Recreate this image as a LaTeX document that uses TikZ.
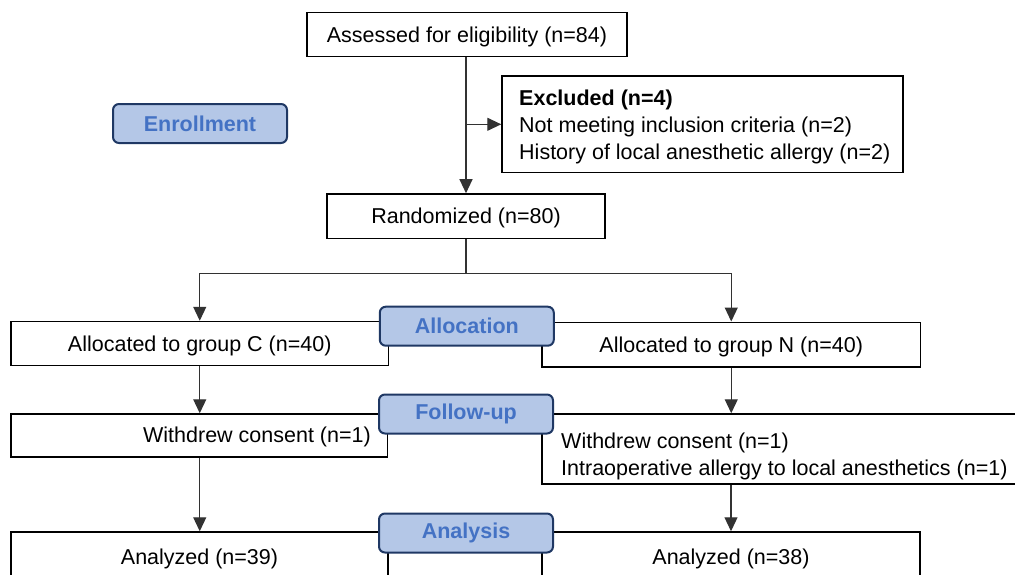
\documentclass[tikz,border=0pt]{standalone}
\usepackage{fontspec}
\setmainfont{Liberation Sans}
\usetikzlibrary{arrows.meta}
\definecolor{labfill}{RGB}{180,199,231}
\definecolor{labdraw}{RGB}{31,56,100}
\definecolor{labtext}{RGB}{68,114,196}
\definecolor{conn}{RGB}{50,50,50}
\begin{document}
\begin{tikzpicture}[x=1pt,y=-1pt,
  every node/.style={font=\fontsize{21.5}{27}\selectfont},
  box/.style={draw=black, line width=1.5pt, fill=white, inner sep=0pt},
  onebox/.style={box, text height=19.5pt, text depth=4.5pt},
  phase/.style={draw=labdraw, line width=2pt, fill=labfill, rounded corners=6pt,
    text=labtext, font=\fontsize{21.5}{27}\selectfont\bfseries,
    minimum width=174pt, minimum height=39pt, inner sep=0pt},
  conn/.style={draw=conn, line width=1.2pt},
  arr/.style={conn, -{Triangle[length=14pt,width=13pt]}},
  freetext/.style={inner sep=0pt, align=left}
]
\useasboundingbox (0,0) rectangle (1015,574);
\clip (0,0) rectangle (1015,574);
\fill[white] (0,0) rectangle (1015,574);

% boxes
\node[onebox, minimum width=320pt, minimum height=44pt] (assess) at (467,34.7) {Assessed for eligibility (n=84)};
\node[box, minimum width=401pt, minimum height=96.7pt] (excl) at (702.5,124.3) {};
\node[freetext, anchor=west] (excltxt) at (519,127) {\textbf{Excluded (n=4)}\\Not meeting inclusion criteria (n=2)\\History of local anesthetic allergy (n=2)};
\node[onebox, minimum width=278pt, minimum height=44.7pt] (rand) at (466,216.3) {Randomized (n=80)};

\node[onebox, minimum width=377.5pt, minimum height=44pt] (allocC) at (199.75,343.5) {Allocated to group C (n=40)};
\node[onebox, minimum width=378.5pt, minimum height=44.5pt] (allocN) at (731.25,344.5) {Allocated to group N (n=40)};

\node[box, minimum width=376.5pt, minimum height=43pt] (wdC) at (199.25,435.5) {};
\node[freetext, anchor=east] (wdCtxt) at (371,437) {Withdrew consent (n=1)};
\node[box, minimum width=490pt, minimum height=70pt] (wdN) at (787,449) {};
\node[freetext, anchor=west] (wdNtxt) at (561,456.5) {Withdrew consent (n=1)\\Intraoperative allergy to local anesthetics (n=1)};

\node[onebox, minimum width=377pt, minimum height=50pt] (anaC) at (199.5,557) {Analyzed (n=39)};
\node[onebox, minimum width=378pt, minimum height=50pt] (anaN) at (731,557) {Analyzed (n=38)};

% connectors
\coordinate (main) at (466,0);
\draw[arr] (assess.south -| main) -- (rand.north -| main);
\coordinate (branch) at (466,124.3);
\draw[arr] (branch) -- (excl.west);
\coordinate (split) at (466,273.3);
\draw[conn] (rand.south -| main) -- (split);
\draw[arr] (split) -| (allocC.north);
\draw[arr] (split) -| (allocN.north);
\draw[arr] (allocC.south) -- (wdC.north -| allocC.south);
\draw[arr] (allocN.south) -- (wdN.north -| allocN.south);
\draw[arr] (wdC.south -| allocC.south) -- (anaC.north -| allocC.south);
\draw[arr] (wdN.south -| anaN.north) -- (anaN.north);

% phase labels
\node[phase] (enroll) at (200,123.5) {Enrollment};
\node[phase] (alloc) at (466.8,326.2) {Allocation};
\node[phase] (follow) at (466,414) {Follow-up};
\node[phase] (analysis) at (466,533) {Analysis};
\end{tikzpicture}
\end{document}
